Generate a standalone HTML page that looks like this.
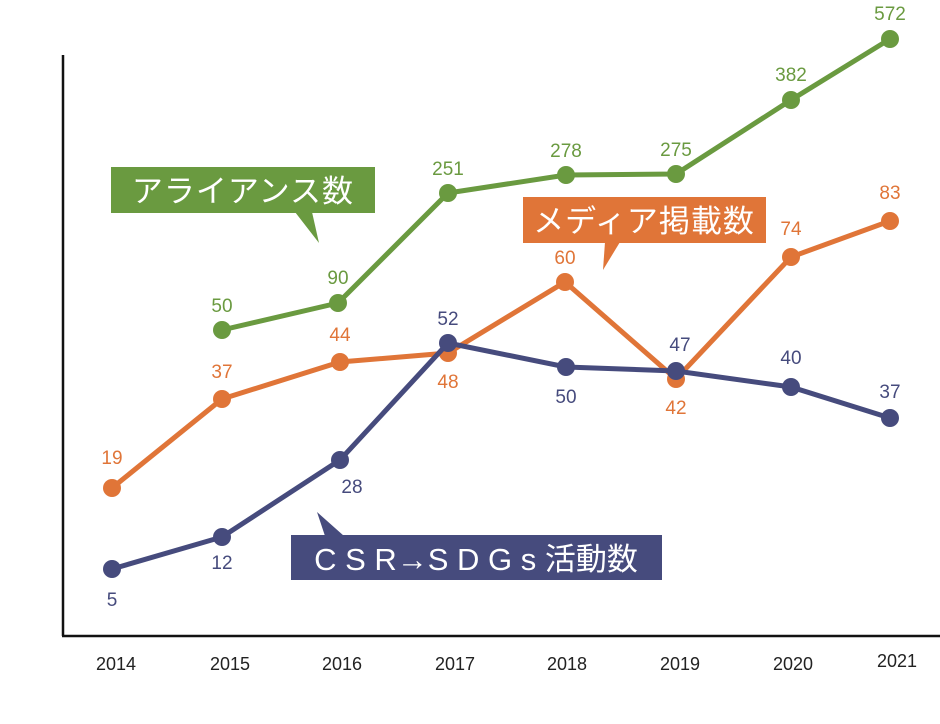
<!DOCTYPE html>
<html><head><meta charset="utf-8"><style>
html,body{margin:0;padding:0;background:#fff;}
svg{display:block;font-family:"Liberation Sans","Noto Sans CJK JP",sans-serif;}
</style></head><body>
<svg width="940" height="724" viewBox="0 0 940 724" xmlns="http://www.w3.org/2000/svg">
<rect width="940" height="724" fill="#fff"/>
<line x1="63" y1="55" x2="63" y2="636" stroke="#111" stroke-width="2.5"/>
<line x1="62" y1="636" x2="940" y2="636" stroke="#111" stroke-width="2.5"/>
<g font-size="18" fill="#222" text-anchor="middle">
<text x="116" y="670">2014</text><text x="230" y="670">2015</text><text x="342" y="670">2016</text>
<text x="455" y="670">2017</text><text x="567" y="670">2018</text><text x="680" y="670">2019</text>
<text x="793" y="670">2020</text><text x="897" y="667">2021</text>
</g>
<g stroke="#6a9a40" stroke-width="5" fill="none"><polyline points="222,330 338,303 448,193 566,175 676,174 791,100 890,39"/></g>
<g fill="#6a9a40">
<circle cx="222" cy="330" r="9"/><circle cx="338" cy="303" r="9"/><circle cx="448" cy="193" r="9"/><circle cx="566" cy="175" r="9"/><circle cx="676" cy="174" r="9"/><circle cx="791" cy="100" r="9"/><circle cx="890" cy="39" r="9"/>
</g>
<g fill="#6a9a40" font-size="19" text-anchor="middle">
<text x="222" y="312">50</text><text x="338" y="284">90</text><text x="448" y="175">251</text><text x="566" y="157">278</text><text x="676" y="156">275</text><text x="791" y="81">382</text><text x="890" y="20">572</text>
</g>
<g stroke="#e07538" stroke-width="5" fill="none"><polyline points="112,488 222,399 340,362 448,353 565,282 676,379 791,257 890,221"/></g>
<g fill="#e07538">
<circle cx="112" cy="488" r="9"/><circle cx="222" cy="399" r="9"/><circle cx="340" cy="362" r="9"/><circle cx="448" cy="353" r="9"/><circle cx="565" cy="282" r="9"/><circle cx="676" cy="379" r="9"/><circle cx="791" cy="257" r="9"/><circle cx="890" cy="221" r="9"/>
</g>
<g fill="#e07538" font-size="19" text-anchor="middle">
<text x="112" y="464">19</text><text x="222" y="378">37</text><text x="340" y="341">44</text><text x="448" y="388">48</text><text x="565" y="264">60</text><text x="676" y="414">42</text><text x="791" y="235">74</text><text x="890" y="199">83</text>
</g>
<g stroke="#464b7d" stroke-width="5" fill="none"><polyline points="112,569 222,537 340,460 448,343 566,367 676,371 791,387 890,418"/></g>
<g fill="#464b7d">
<circle cx="112" cy="569" r="9"/><circle cx="222" cy="537" r="9"/><circle cx="340" cy="460" r="9"/><circle cx="448" cy="343" r="9"/><circle cx="566" cy="367" r="9"/><circle cx="676" cy="371" r="9"/><circle cx="791" cy="387" r="9"/><circle cx="890" cy="418" r="9"/>
</g>
<g fill="#464b7d" font-size="19" text-anchor="middle">
<text x="112" y="606">5</text><text x="222" y="569">12</text><text x="352" y="493">28</text><text x="448" y="325">52</text><text x="566" y="403">50</text><text x="680" y="351">47</text><text x="791" y="364">40</text><text x="890" y="398">37</text>
</g>
<g fill="#6a9a40">
<rect x="111" y="167" width="264" height="46"/>
<polygon points="295,212 312,212 319,243"/>
</g>
<text x="243" y="202" fill="#fff" font-size="31" text-anchor="middle" letter-spacing="1">アライアンス数</text>
<g fill="#e07538">
<rect x="523" y="197" width="243" height="46"/>
<polygon points="605,242 620,242 603,270"/>
</g>
<text x="644" y="232" fill="#fff" font-size="31" text-anchor="middle" letter-spacing="1">メディア掲載数</text>
<g fill="#464b7d">
<rect x="291" y="535" width="371" height="45"/>
<polygon points="325,536 344,536 317,512"/>
</g>
<text x="476" y="570" fill="#fff" font-size="31" text-anchor="middle">C S R→S D G s 活動数</text>
</svg>
</body></html>
